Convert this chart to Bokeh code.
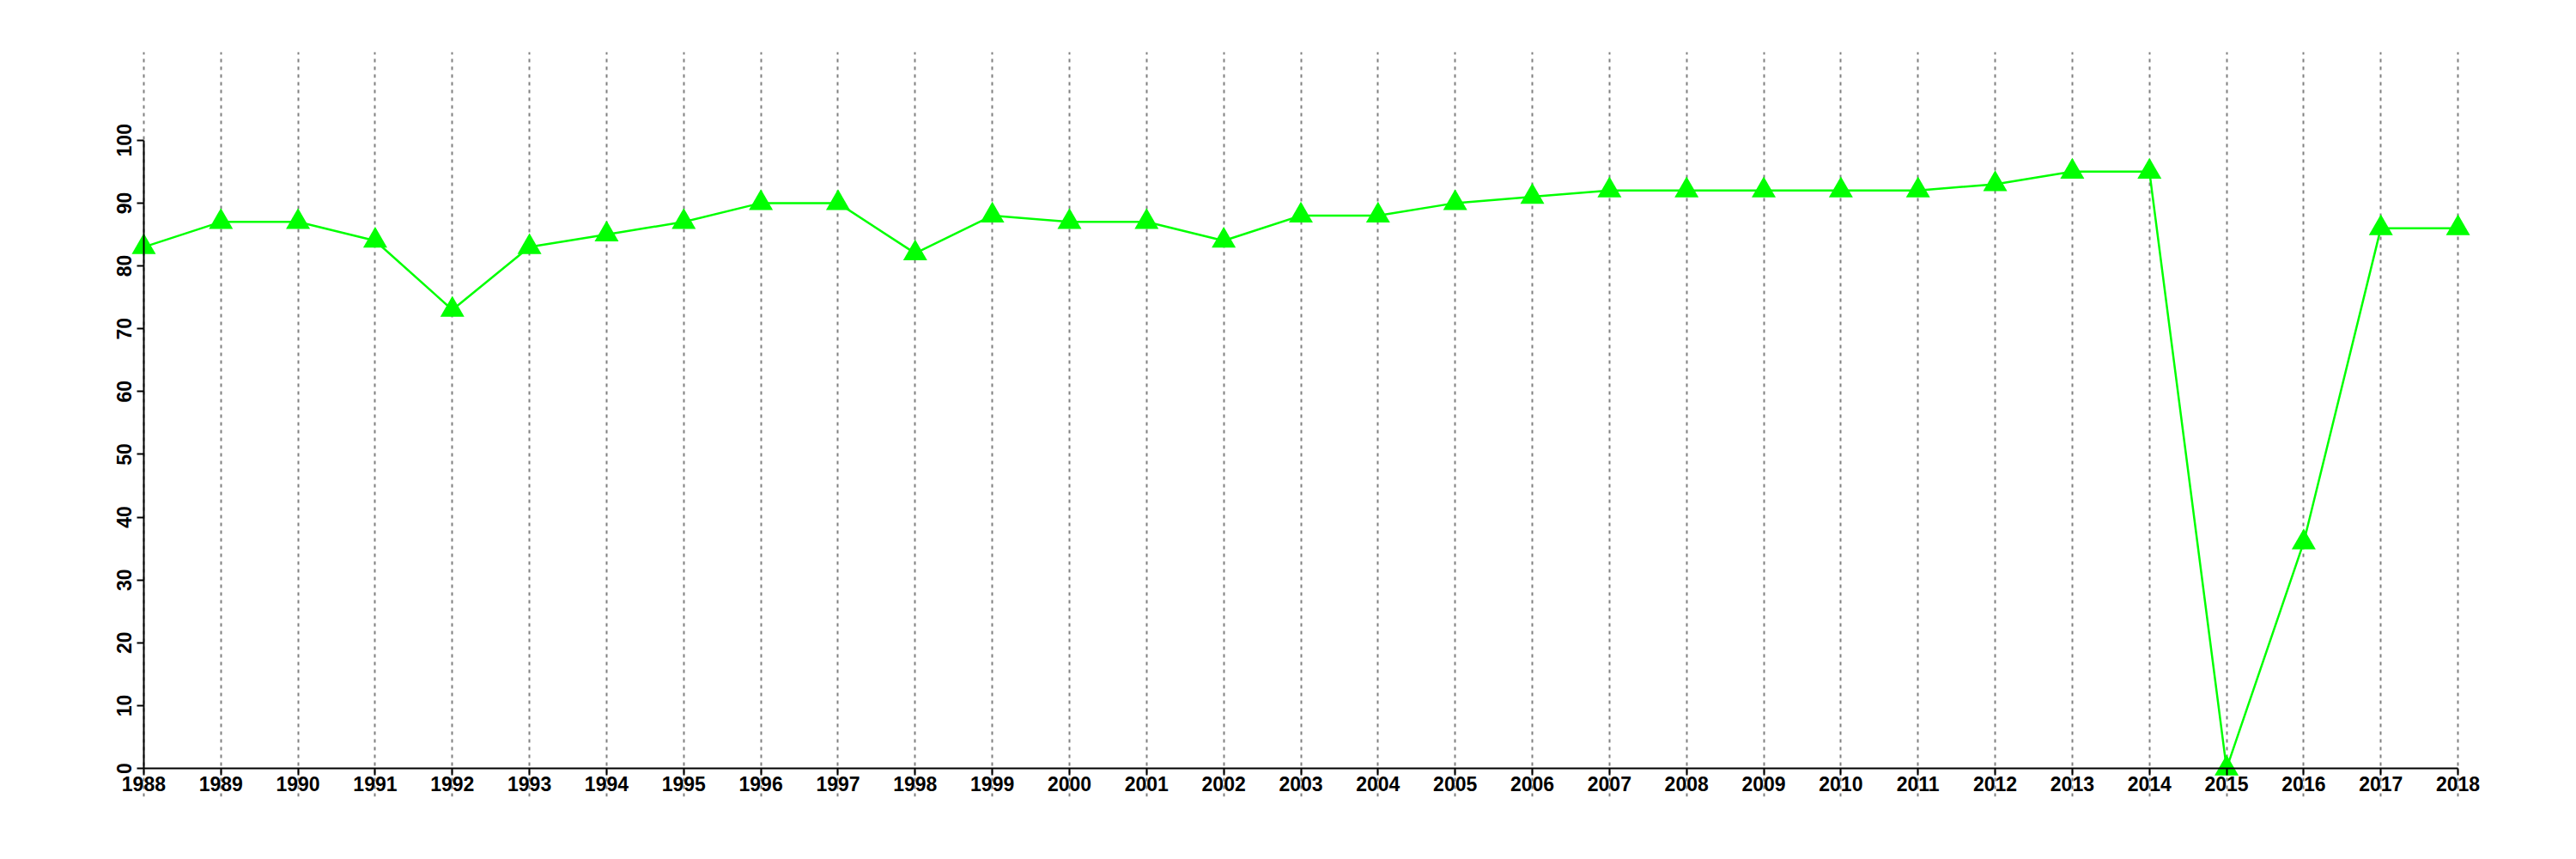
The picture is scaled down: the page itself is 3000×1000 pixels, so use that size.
from bokeh.plotting import figure
from bokeh.models import LinearAxis, FixedTicker, Grid, Range1d
from bokeh.embed import file_html
from bokeh.resources import INLINE

years = list(range(1988, 2019))
values = [83, 87, 87, 84, 73, 83, 85, 87, 90, 90, 82, 88, 87, 87, 84, 88,
          88, 90, 91, 92, 92, 92, 92, 92, 93, 95, 95, 0, 36, 86, 86]
y_ticks = [0, 10, 20, 30, 40, 50, 60, 70, 80, 90, 100]

p = figure(width=2992, height=992, output_backend="svg", toolbar_location=None,
           x_range=Range1d(1987.5, 2018.5), y_range=Range1d(-4.5, 114.05),
           x_axis_location=None, y_axis_location=None,
           min_border_left=122, min_border_right=85,
           min_border_top=60, min_border_bottom=65)
p.outline_line_color = None
p.grid.visible = False
p.background_fill_color = "white"
p.border_fill_color = "white"

xt = FixedTicker(ticks=years)
yt = FixedTicker(ticks=y_ticks)

vgrid = Grid(dimension=0, ticker=xt, grid_line_color="#808080",
             grid_line_width=2, grid_line_dash="4 5")
p.add_layout(vgrid)

xaxis = LinearAxis(ticker=xt, fixed_location=0, bounds=(1988, 2018))
yaxis = LinearAxis(ticker=yt, fixed_location=1988, bounds=(0, 100))
for ax in (xaxis, yaxis):
    ax.axis_line_width = 2
    ax.axis_line_color = "black"
    ax.major_tick_line_width = 2
    ax.major_tick_line_color = "black"
    ax.major_tick_out = 8
    ax.major_tick_in = 0
    ax.minor_tick_out = 0
    ax.minor_tick_in = 0
    ax.major_label_text_font = "Liberation Sans"
    ax.major_label_text_font_style = "bold"
    ax.major_label_text_font_size = "23px"
    ax.major_label_text_color = "black"
xaxis.major_label_standoff = 1
yaxis.major_label_standoff = 6
yaxis.major_label_orientation = "vertical"
p.add_layout(xaxis, "below")
p.add_layout(yaxis, "left")

p.line(years, values, line_color="#00FF00", line_width=2.5)
p.scatter(years, values, marker="triangle", size=28,
          fill_color="#00FF00", line_color="#00FF00", line_width=0)

open("out.html", "w").write(file_html(p, INLINE))
